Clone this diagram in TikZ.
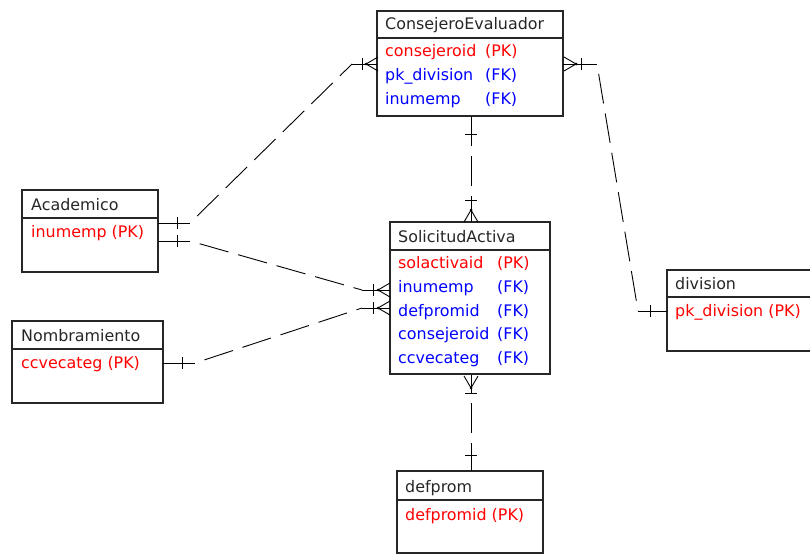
\documentclass[tikz,border=0pt]{standalone}
\usepackage{fontspec}
\setmainfont{DejaVu Sans}
\usetikzlibrary{positioning}
\tikzset{%
  % boxes of the entities
     enthead/.style = {rectangle, draw=black!85, line width=1.3pt,
                       anchor=north west, inner sep=0pt, outer sep=0pt},
  % texts in the boxes
      entext/.style = {anchor=west, inner sep=0pt, text height=12pt,
                       text depth=2pt, font=\fontsize{15.9}{18}\selectfont},
    enttitle/.style = {entext, text=black!85},
        pkey/.style = {entext, text=red},
        fkey/.style = {entext, text=blue},
  % relationship lines and their ends
         rel/.style = {draw=black, line width=0.9pt},
     reldash/.style = {rel, dash pattern=on 30pt off 10pt, dash phase=30pt},
      onebar/.pic   = {\draw[rel] (0,-6) -- (0,6);},
    crowfoot/.pic   = {\draw[rel] (0,0) -- (12,-7) (0,0) -- (12,7);
                       \fill (0,0) circle (1.5pt);},
}
\begin{document}
\begin{tikzpicture}[x=1pt, y=-1pt]
  \useasboundingbox (0,0) rectangle (810,554);

  % Entities
  \node (consHead) [enthead, minimum width=186pt, minimum height=27pt] at (377,11) {};
  \node (consBody) [enthead, minimum width=186pt, minimum height=78pt] at (consHead.south west) {};
  \node (solHead)  [enthead, minimum width=160pt, minimum height=28pt] at (390,222) {};
  \node (solBody)  [enthead, minimum width=160pt, minimum height=124pt] at (solHead.south west) {};
  \node (acadHead) [enthead, minimum width=136pt, minimum height=28pt] at (22,190) {};
  \node (acadBody) [enthead, minimum width=136pt, minimum height=54pt] at (acadHead.south west) {};
  \node (nombHead) [enthead, minimum width=151pt, minimum height=28pt] at (12,321) {};
  \node (nombBody) [enthead, minimum width=151pt, minimum height=54pt] at (nombHead.south west) {};
  \node (divHead)  [enthead, minimum width=150pt, minimum height=27pt] at (667,270) {};
  \node (divBody)  [enthead, minimum width=150pt, minimum height=54pt] at (divHead.south west) {};
  \node (defpHead) [enthead, minimum width=146pt, minimum height=29pt] at (397,471) {};
  \node (defpBody) [enthead, minimum width=146pt, minimum height=53pt] at (defpHead.south west) {};

  % Texts of the entities
  \node (consTitle) [enttitle] at (385,24)  {ConsejeroEvaluador};
  \node (consId)    [pkey]     at (385,51)  {consejeroid};
  \node (consIdK)   [pkey]     at (485,51)  {(PK)};
  \node (consDiv)   [fkey]     at (385,75)  {pk\_division};
  \node (consDivK)  [fkey]     at (485,75)  {(FK)};
  \node (consEmp)   [fkey]     at (385,99)  {inumemp};
  \node (consEmpK)  [fkey]     at (485,99)  {(FK)};

  \node (solTitle)  [enttitle] at (398,237) {SolicitudActiva};
  \node (solId)     [pkey]     at (398,263) {solactivaid};
  \node (solIdK)    [pkey]     at (497,263) {(PK)};
  \node (solEmp)    [fkey]     at (398,287) {inumemp};
  \node (solEmpK)   [fkey]     at (497,287) {(FK)};
  \node (solProm)   [fkey]     at (398,311) {defpromid};
  \node (solPromK)  [fkey]     at (497,311) {(FK)};
  \node (solCons)   [fkey]     at (398,334) {consejeroid};
  \node (solConsK)  [fkey]     at (497,334) {(FK)};
  \node (solCat)    [fkey]     at (398,358) {ccvecateg};
  \node (solCatK)   [fkey]     at (497,358) {(FK)};

  \node (acadTitle) [enttitle] at (31,205)  {Academico};
  \node (acadId)    [pkey]     at (31,232)  {inumemp (PK)};
  \node (nombTitle) [enttitle] at (21,336)  {Nombramiento};
  \node (nombId)    [pkey]     at (21,363)  {ccvecateg (PK)};
  \node (divTitle)  [enttitle] at (675,284) {division};
  \node (divId)     [pkey]     at (675,311) {pk\_division (PK)};
  \node (defpTitle) [enttitle] at (405,487) {defprom};
  \node (defpId)    [pkey]     at (405,515) {defpromid (PK)};

  % Academico -- ConsejeroEvaluador
  \coordinate (acadA)  at (158,223);
  \coordinate (acadA1) at (190,223);
  \coordinate (consA1) at (352,64);
  \coordinate (consA)  at (377,64);
  \draw[rel]     (acadA) -- (acadA1);
  \draw[reldash] (acadA1) -- (consA1);
  \draw[rel]     (consA1) -- (consA);
  \pic at (177,223) {onebar};
  \pic at (362,64)  {onebar};
  \pic at (366,64)  {crowfoot};

  % Academico -- SolicitudActiva
  \coordinate (acadB)  at (158,241);
  \coordinate (acadB1) at (190,241);
  \coordinate (solB1)  at (362,290);
  \coordinate (solB)   at (390,290);
  \draw[rel]     (acadB) -- (acadB1);
  \draw[reldash] (acadB1) -- (solB1);
  \draw[rel]     (solB1) -- (solB);
  \pic at (177,241) {onebar};
  \pic at (373,290) {onebar};
  \pic at (378,290) {crowfoot};

  % Nombramiento -- SolicitudActiva
  \coordinate (nombC)  at (163,363);
  \coordinate (nombC1) at (195,363);
  \coordinate (solC1)  at (362,308);
  \coordinate (solC)   at (390,308);
  \draw[rel]     (nombC) -- (nombC1);
  \draw[reldash] (nombC1) -- (solC1);
  \draw[rel]     (solC1) -- (solC);
  \pic at (182,363) {onebar};
  \pic at (373,308) {onebar};
  \pic at (378,308) {crowfoot};

  % ConsejeroEvaluador -- SolicitudActiva
  \coordinate (consD)  at (471,116);
  \coordinate (consD1) at (471,146);
  \coordinate (solD1)  at (471,197);
  \coordinate (solD)   at (471,222);
  \draw[rel]     (consD) -- (consD1);
  \draw[reldash] (consD1) -- (solD1);
  \draw[rel]     (solD1) -- (solD);
  \pic[rotate=90]  at (471,134) {onebar};
  \pic[rotate=90]  at (471,200) {onebar};
  \pic[rotate=-90] at (471,210) {crowfoot};

  % SolicitudActiva -- defprom
  \coordinate (solE)   at (471,375);
  \coordinate (solE1)  at (471,393);
  \coordinate (defpE1) at (471,443);
  \coordinate (defpE)  at (471,471);
  \draw[rel]     (solE) -- (solE1);
  \draw[reldash] (solE1) -- (defpE1);
  \draw[rel]     (defpE1) -- (defpE);
  \pic[rotate=90] at (471,388) {crowfoot};
  \pic[rotate=90] at (471,393) {onebar};
  \pic[rotate=90] at (471,455) {onebar};

  % ConsejeroEvaluador -- division
  \coordinate (consF)  at (563,64);
  \coordinate (consF1) at (597,64);
  \coordinate (divF1)  at (638,311);
  \coordinate (divF)   at (667,311);
  \draw[rel]     (consF) -- (consF1);
  \draw[reldash] (consF1) -- (divF1);
  \draw[rel]     (divF1) -- (divF);
  \pic[rotate=180] at (576,64) {crowfoot};
  \pic at (581,64)  {onebar};
  \pic at (650,311) {onebar};
\end{tikzpicture}
\end{document}
